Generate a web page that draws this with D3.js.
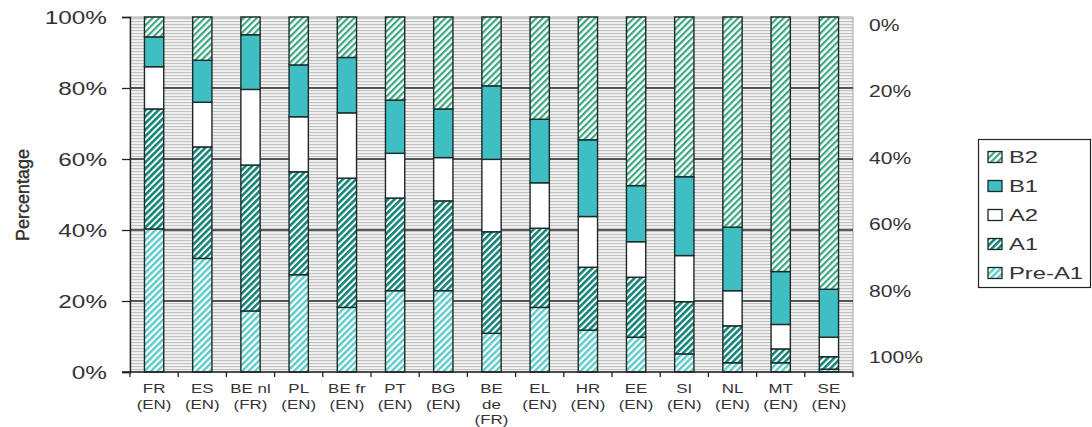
<!DOCTYPE html>
<html>
<head>
<meta charset="utf-8">
<script src="https://cdn.jsdelivr.net/npm/d3@7"></script>
<style>
  body { margin: 0; background: #fff; }
  text { font-family: "Liberation Sans", Arial, sans-serif; fill: #333; }
</style>
</head>
<body>
<div id="chart"></div>
<script>
// levels reached per test language, share of students (%)
const categories = ["FR|(EN)", "ES|(EN)", "BE nl|(FR)", "PL|(EN)", "BE fr|(EN)", "PT|(EN)", "BG|(EN)",
                    "BE|de|(FR)", "EL|(EN)", "HR|(EN)", "EE|(EN)", "SI|(EN)", "NL|(EN)", "MT|(EN)", "SE|(EN)"]
const preA1 = [40.3, 32.0, 17.2, 27.4, 18.2, 22.9, 22.9, 10.9, 18.2, 11.8,  9.8,  5.1,  2.6,  2.6,  0.8]
const a1    = [33.8, 31.4, 41.1, 29.0, 36.4, 26.1, 25.3, 28.6, 22.3, 17.7, 16.9, 14.7, 10.4,  3.9,  3.5]
const a2    = [11.9, 12.6, 21.3, 15.5, 18.4, 12.6, 12.2, 20.4, 12.8, 14.3, 10.0, 13.0,  9.9,  6.9,  5.5]
const b1    = [ 8.4, 11.8, 15.4, 14.6, 15.6, 15.0, 13.7, 20.7, 17.9, 21.6, 15.8, 22.2, 17.9, 14.9, 13.5]
const b2    = [ 5.6, 12.2,  5.0, 13.5, 11.4, 23.4, 25.9, 19.4, 28.8, 34.6, 47.5, 45.0, 59.2, 71.7, 76.7]
const levels = ["Pre-A1", "A1", "A2", "B1", "B2"]
const leftTicks = [0, 20, 40, 60, 80, 100]
const rightTicks = [0, 20, 40, 60, 80, 100]

const width = 1092
const height = 427
const plotLeft = 130, plotRight = 853, plotTop = 17, plotBottom = 372

const rows = categories.map((c, i) => ({
  cat: c, "Pre-A1": preA1[i], "A1": a1[i], "A2": a2[i], "B1": b1[i], "B2": b2[i]
}))
const series = d3.stack().keys(levels)(rows)

const x = d3.scaleBand().domain(categories).range([plotLeft, plotRight]).padding(0)
const y = d3.scaleLinear().domain([0, 100]).range([plotBottom, plotTop])
const yRight = d3.scaleLinear().domain([0, 100]).range([25, 357])
const barW = x.bandwidth() * 0.4

const svg = d3.select("#chart").append("svg")
  .attr("width", width)
  .attr("height", height)

// patterns
const defs = svg.append("defs")
const bg = defs.append("pattern").attr("id", "bgLines")
  .attr("patternUnits", "userSpaceOnUse").attr("width", 6).attr("height", 3)
bg.append("rect").attr("width", 6).attr("height", 3).attr("fill", "#f1f1f1")
bg.append("rect").attr("width", 6).attr("height", 1.1).attr("fill", "#c2c2c2")

function hatch(id, color, sw) {
  const p = defs.append("pattern").attr("id", id)
    .attr("patternUnits", "userSpaceOnUse").attr("width", 4.6).attr("height", 4.6)
    .attr("patternTransform", "rotate(45)")
  p.append("rect").attr("width", 4.6).attr("height", 4.6).attr("fill", "#fff")
  p.append("rect").attr("width", sw).attr("height", 4.6).attr("fill", color)
}
hatch("hB2", "#3ca581", 2.2)
hatch("hA1", "#13837a", 2.6)
hatch("hPre", "#5ccaca", 2.4)

const fills = { "Pre-A1": "url(#hPre)", "A1": "url(#hA1)", "A2": "#ffffff", "B1": "#3fbec3", "B2": "url(#hB2)" }

// make text wider, the source picture is stretched horizontally
function stretch(sel, k) {
  sel.each(function() {
    const w = this.getComputedTextLength()
    d3.select(this).attr("textLength", w * k).attr("lengthAdjust", "spacingAndGlyphs")
  })
}

// plot background
svg.append("rect")
  .attr("x", plotLeft).attr("y", plotTop)
  .attr("width", plotRight - plotLeft).attr("height", plotBottom - plotTop)
  .attr("fill", "url(#bgLines)")
  .attr("stroke", "#a8a8a8").attr("stroke-width", 1)

// gridlines
svg.append("g")
  .selectAll("line")
  .data(leftTicks.filter(d => d > 0 && d < 100))
  .join("line")
  .attr("x1", plotLeft).attr("x2", plotRight)
  .attr("y1", d => y(d)).attr("y2", d => y(d))
  .attr("stroke", "#2a2a2a").attr("stroke-width", 1.3)

// bars
svg.append("g")
  .selectAll("g")
  .data(series)
  .join("g")
  .attr("fill", d => fills[d.key])
  .selectAll("rect")
  .data(d => d)
  .join("rect")
  .attr("x", d => x(d.data.cat) + (x.bandwidth() - barW) / 2)
  .attr("y", d => y(d[1]))
  .attr("width", barW)
  .attr("height", d => y(d[0]) - y(d[1]))
  .attr("stroke", "#1c2a27")
  .attr("stroke-width", 1.4)

// left axis
const gl = svg.append("g")
  .attr("transform", `translate(${plotLeft},0)`)
  .call(d3.axisLeft(y).tickValues(leftTicks).tickFormat(d => d + "%").tickSize(8).tickPadding(15))
gl.select(".domain").attr("stroke", "#222").attr("stroke-width", 1.3)
gl.selectAll(".tick line").attr("stroke", "#222").attr("stroke-width", 1.3)
gl.selectAll("text").style("font-size", "19px").attr("fill", "#333")
  .attr("font-family", null)
stretch(gl.selectAll("text"), 1.28)

// bottom axis line and ticks at category boundaries
svg.append("line")
  .attr("x1", plotLeft - 8).attr("x2", plotRight)
  .attr("y1", plotBottom).attr("y2", plotBottom)
  .attr("stroke", "#222").attr("stroke-width", 1.3)
svg.append("g")
  .selectAll("line")
  .data(categories.concat([null]))
  .join("line")
  .attr("x1", d => d === null ? plotRight : x(d))
  .attr("x2", d => d === null ? plotRight : x(d))
  .attr("y1", plotBottom).attr("y2", plotBottom + 5)
  .attr("stroke", "#222").attr("stroke-width", 1.3)

// category labels
const lab = svg.append("g")
  .selectAll("text")
  .data(categories)
  .join("text")
  .attr("x", d => x(d) + x.bandwidth() / 2)
  .attr("y", 393)
  .attr("text-anchor", "middle")
  .style("font-size", "13px")
  .attr("fill", "#4a4a4a")
lab.selectAll("tspan")
  .data(d => d.split("|").map(t => ({ t, cx: x(d) + x.bandwidth() / 2 })))
  .join("tspan")
  .attr("x", d => d.cx)
  .attr("dy", (d, i) => i === 0 ? 0 : 15.5)
  .text(d => d.t)
lab.selectAll("tspan").each(function() {
  const w = this.getComputedTextLength()
  d3.select(this).attr("textLength", w * 1.3).attr("lengthAdjust", "spacingAndGlyphs")
})

// right axis (labels only)
const gr = svg.append("g")
  .attr("transform", `translate(${plotRight},0)`)
  .call(d3.axisRight(yRight).tickValues(rightTicks).tickFormat(d => d + "%").tickSize(0).tickPadding(16))
gr.select(".domain").remove()
gr.selectAll("text").style("font-size", "17px").attr("fill", "#333").attr("font-family", null)
stretch(gr.selectAll("text"), 1.24)

// y title
const yt = svg.append("text")
  .attr("transform", "translate(29,195) rotate(-90)")
  .attr("text-anchor", "middle")
  .style("font-size", "18px")
  .attr("fill", "#222")
  .style("stroke", "#222").style("stroke-width", 0.35)
  .text("Percentage")
yt.attr("textLength", 92).attr("lengthAdjust", "spacingAndGlyphs")

// legend
const legend = svg.append("g")
legend.append("rect")
  .attr("x", 978.5).attr("y", 139.5).attr("width", 112).attr("height", 148)
  .attr("fill", "#fff").attr("stroke", "#222").attr("stroke-width", 1.2)
const items = legend.selectAll(".item")
  .data(levels.slice().reverse())
  .join("g")
  .attr("class", "item")
  .attr("transform", (d, i) => `translate(988,${157 + i * 29})`)
items.append("rect")
  .attr("x", 0).attr("y", -5.5).attr("width", 14).attr("height", 11)
  .attr("fill", d => fills[d])
  .attr("stroke", "#1c2a27").attr("stroke-width", 1.3)
const lt = items.append("text")
  .attr("x", 21).attr("dy", "0.35em")
  .style("font-size", "17px")
  .attr("fill", "#333")
  .text(d => d)
stretch(lt, 1.4)
</script>
</body>
</html>
